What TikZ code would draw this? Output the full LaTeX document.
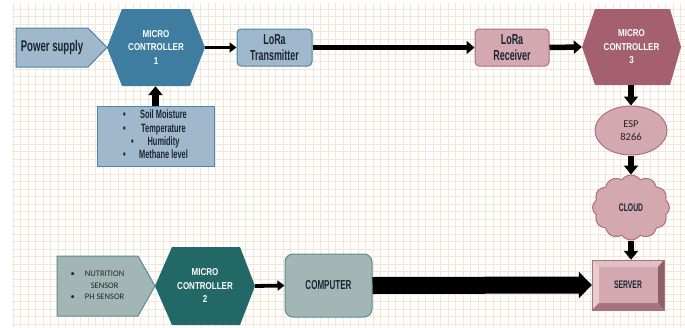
\documentclass[tikz,border=0pt]{standalone}
\usepackage{fontspec}
\setmainfont{Carlito}
\newfontfamily\cond[FakeStretch=0.62]{Liberation Sans}
\newfontfamily\hexfont[FakeStretch=0.8]{Liberation Sans}
\usetikzlibrary{arrows.meta,shapes.symbols,shapes.geometric,calc}
\definecolor{gridc}{HTML}{F3E6D4}
\definecolor{bluef}{HTML}{A0B8CC}
\definecolor{blued}{HTML}{4C87AB}
\definecolor{mconec}{HTML}{3E7CA0}
\definecolor{pinkf}{HTML}{D3A8B0}
\definecolor{pinkd}{HTML}{B26E7C}
\definecolor{mcthreec}{HTML}{A5606F}
\definecolor{tealc}{HTML}{226866}
\definecolor{grayf}{HTML}{A3B6B6}
\definecolor{grayd}{HTML}{5E8C8C}
\definecolor{labc}{HTML}{1B2633}
\definecolor{bevtop}{HTML}{DFC0C6}
\definecolor{bevleft}{HTML}{E6CDD1}
\definecolor{bevright}{HTML}{8E6169}
\definecolor{bevbot}{HTML}{A5737D}
\tikzset{
  lbl/.style={font=\cond\bfseries, text=labc, align=center, inner sep=0pt},
  hexlbl/.style={font=\hexfont\bfseries\fontsize{10}{13.5}\selectfont, text=white, align=center, inner sep=0pt},
  arrthin/.style={line width=3.8pt, -{Triangle[length=7pt,width=10pt]}},
  arrmid/.style={line width=5.5pt, -{Triangle[length=8pt,width=13pt]}},
  arrvert/.style={line width=6.5pt, -{Triangle[length=9pt,width=14pt]}},
  arrbig/.style={line width=17pt, -{Triangle[length=13pt,width=26pt]}},
}
\begin{document}
\begin{tikzpicture}[x=1pt,y=-1pt]
\useasboundingbox (0,0) rectangle (685,327);
\fill[white] (0,0) rectangle (685,327);
% grid
\foreach \i in {0,...,89} {
  \draw[gridc, line width=0.9pt] ({13.3+7.5*\i},3) -- ({13.3+7.5*\i},327);
}
\foreach \j in {0,...,43} {
  \draw[gridc, line width=0.9pt] (12,{9+7.5*\j}) -- (685,{9+7.5*\j});
}
% Power supply
\filldraw[fill=bluef, draw=blued, line width=1pt] (16,28) -- (88,28) -- (107,47.5) -- (88,67) -- (16,67) -- cycle;
\node[lbl, font=\cond\bfseries\fontsize{15.5}{17}\selectfont, minimum width=72pt, minimum height=39pt] (ps) at (52,47.5) {Power supply};
% MC1
\fill[mconec] (107,47.5) -- (122,9) -- (190,9) -- (205,47.5) -- (190,86) -- (122,86) -- cycle;
\node[hexlbl, minimum width=98pt, minimum height=77pt] (mc1) at (156,47.5) {MICRO\\CONTROLLER\\1};
% Sensors box
\node[draw=blued, fill=bluef, line width=1pt, minimum width=117pt, minimum height=60pt, inner sep=0pt,
      font=\cond\bfseries\fontsize{12}{13.3}\selectfont, text=labc] (sens) at (155.5,136)
  {\begin{tabular}{@{}l@{\hspace{12pt}}c@{}}
   \makebox[4pt][l]{•} & Soil Moisture\\
   \makebox[4pt][l]{•} & Temperature\\
   \makebox[4pt][l]{\hspace{8pt}•} & Humidity\\
   \makebox[4pt][l]{•} & Methane level
   \end{tabular}};
% LoRa
\node[lbl, font=\cond\bfseries\fontsize{14.5}{16.5}\selectfont, draw=blued, fill=bluef, line width=1pt, rounded corners=4pt,
      minimum width=75pt, minimum height=37pt] (tx) at (274.5,47.5) {LoRa\\Transmitter};
\node[lbl, font=\cond\bfseries\fontsize{14.5}{16.5}\selectfont, draw=pinkd, fill=pinkf, line width=1pt, rounded corners=4pt,
      minimum width=74pt, minimum height=37pt] (rx) at (512,47.5) {LoRa\\Receiver};
% MC3
\fill[mcthreec] (582,47) -- (595,9) -- (670,9) -- (681,47) -- (670,85) -- (595,85) -- cycle;
\node[hexlbl, minimum width=99pt, minimum height=76pt] (mc3) at (631.5,47) {MICRO\\CONTROLLER\\3};
% ESP
\node[ellipse, draw=pinkd, fill=pinkf, line width=1pt, minimum width=72pt, minimum height=49pt, inner sep=0pt,
      align=center, font=\fontsize{10.5}{12.5}\selectfont, text=black!85] (esp) at (631,130.5) {ESP\\8266};
% Cloud
\node[cloud, cloud puffs=12, cloud puff arc=110, aspect=1.2, draw=pinkd, fill=pinkf, line width=1pt,
      minimum width=77pt, minimum height=65pt, inner sep=0pt, lbl, font=\cond\bfseries\fontsize{11}{12}\selectfont] (cloud) at (631,207.5) {CLOUD};
% Server
\fill[pinkf] (592,260) rectangle (664,310);
\fill[bevtop] (592,260) -- (664,260) -- (658,267) -- (599,267) -- cycle;
\fill[bevleft] (592,260) -- (599,267) -- (599,303) -- (592,310) -- cycle;
\fill[bevright] (664,260) -- (664,310) -- (658,303) -- (658,267) -- cycle;
\fill[bevbot] (592,310) -- (664,310) -- (658,303) -- (599,303) -- cycle;
\draw[pinkd, line width=0.8pt] (592,260) rectangle (664,310);
\node[lbl, font=\cond\bfseries\fontsize{11}{12}\selectfont, minimum width=72pt, minimum height=50pt] (server) at (628,285) {SERVER};
% Nutrition
\filldraw[fill=grayf, draw=grayd, line width=1pt] (57,256) -- (138,256) -- (155,286) -- (138,316) -- (57,316) -- cycle;
\node[inner sep=0pt, minimum width=81pt, minimum height=60pt, font=\fontsize{8.5}{11.5}\selectfont, text=black!85] (nut) at (97.5,286)
  {\begin{tabular}{@{}l@{\hspace{10pt}}c@{}}
   • & NUTRITION\\
     & SENSOR\\
   • & PH SENSOR
   \end{tabular}};
% MC2
\fill[tealc] (155,286) -- (172,247) -- (240,247) -- (255,286) -- (240,325) -- (172,325) -- cycle;
\node[hexlbl, minimum width=100pt, minimum height=78pt] (mc2) at (205,286) {MICRO\\CONTROLLER\\2};
% Computer
\node[lbl, font=\cond\bfseries\fontsize{13}{14}\selectfont, draw=grayd, fill=grayf, line width=1pt, rounded corners=8pt,
      minimum width=87pt, minimum height=63pt] (comp) at (328.5,285.5) {COMPUTER};
% connectors
\draw[arrthin] (mc1.east) -- (tx.west);
\draw[arrmid] (tx.east) -- (rx.west);
\draw[arrmid] (rx.east) -- (mc3.west);
\draw[arrvert] (sens.north) -- (sens.north |- mc1.south);
\draw[arrvert] (esp.north |- mc3.south) -- (esp.north);
\draw[arrvert] (esp.south) -- (cloud.north);
\draw[arrvert] (cloud.south) -- (cloud.south |- server.north);
\draw[arrthin] (mc2.east) -- (comp.west);
\draw[arrbig] (comp.east) -- (server.west);
\end{tikzpicture}
\end{document}
